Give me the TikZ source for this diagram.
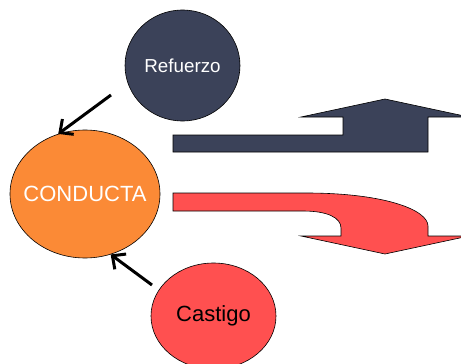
\documentclass[tikz,border=0pt]{standalone}
\usepackage{fontspec}
\setmainfont{Liberation Sans}
\usetikzlibrary{shapes.geometric, arrows.meta}
\definecolor{azul}{HTML}{3B4259}
\definecolor{naranja}{HTML}{FB8A36}
\definecolor{rojo}{HTML}{FF5050}
\begin{document}
\begin{tikzpicture}[x=1pt, y=-1pt]
% Definición de estilos
\tikzset{
bola/.style={draw=black, line width=0.6pt, ellipse, inner sep=-30pt, align=center},
flecha/.style={draw=black, line width=0.6pt, line join=miter},
enlace/.style={line width=3pt, -{Straight Barb[length=10pt, width=19pt, line width=3pt]}}
}
\clip (0,0) rectangle (461,364);
% Refuerzo
\node[bola, fill=azul, minimum width=115pt, minimum height=111pt, text=white, font=\fontsize{18.8}{20}\selectfont] (refuerzo) at (182.5,65.5) {Refuerzo};
% Conducta
\node[bola, fill=naranja, minimum width=150pt, minimum height=128pt, text=white, font=\fontsize{22}{24}\selectfont] (conducta) at (85,194) {CONDUCTA};
% Castigo
\node[bola, fill=rojo, minimum width=125pt, minimum height=106pt, text=black, font=\fontsize{22}{24}\selectfont] (castigo) at (213.5,316) {Castigo};
% Flechas hacia la conducta
\coordinate (desderef) at (111,95);
\coordinate (desdecas) at (152,285);
\draw[enlace] (desderef) -- (conducta.114);
\draw[enlace] (desdecas) -- (conducta.-67);
% Flecha azul (sube)
\path[flecha, fill=azul] (173,135) -- (343,135) -- (343,117) -- (301,117) -- (385,99)
  -- (469,117) -- (428,117) -- (428,152) -- (173,152) -- cycle;
% Flecha roja (baja)
\path[flecha, fill=rojo] (173,193) -- (306,193) .. controls (385,193) and (428,210) .. (428,226)
  -- (428,236) -- (469,236) -- (385,254) -- (301,236) -- (341,236) -- (341,228)
  .. controls (341,218) and (328,211) .. (303,211) -- (173,211) -- cycle;
\end{tikzpicture}
\end{document}
